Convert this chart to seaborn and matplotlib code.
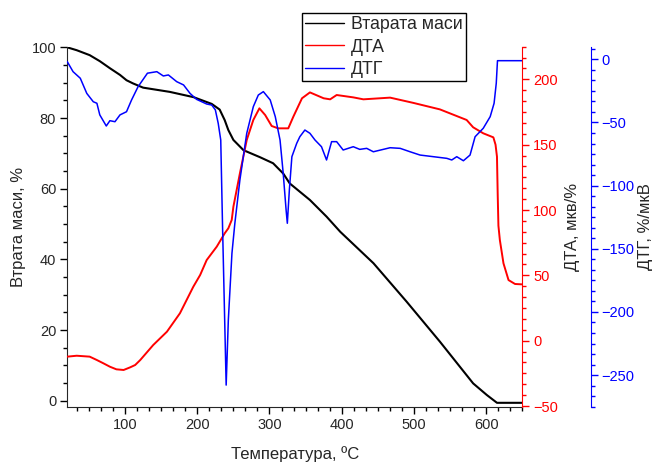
import matplotlib
matplotlib.use("Agg")
import matplotlib.pyplot as plt
import seaborn as sns
from matplotlib.lines import Line2D
from matplotlib.ticker import MultipleLocator, AutoMinorLocator

# values
t_mass = [20, 33, 51, 65, 79, 93, 102, 111, 125, 162, 195, 220, 231, 238, 243, 250, 264, 287,
          305, 319, 328, 356, 379, 398, 444, 490, 536, 582, 601, 615, 650]
mass = [100, 99.2, 97.8, 96.1, 94.1, 92.2, 90.7, 89.8, 88.6, 87.4, 85.9, 84.0, 82.4, 79.4, 76.6,
        73.8, 70.9, 68.9, 67.2, 64.3, 61.5, 56.8, 52.1, 47.8, 38.9, 28.0, 16.7, 4.9, 1.6, -0.6,
        -0.6]

t_dta = [20, 33, 51, 61, 70, 79, 88, 98, 107, 114, 121, 139, 158, 176, 194.5, 204, 213, 227, 238,
         243, 247.7, 250, 259, 268.5, 277.6, 286, 294, 303, 312, 326, 333, 345, 356, 375, 384, 393,
         416, 430, 467, 499, 536, 573, 582, 596, 610, 613, 615, 616, 617, 619, 624, 631, 640, 650]
dta = [-12.2, -11.5, -12.2, -14.8, -17.3, -19.9, -21.9, -22.4, -20.4, -18.6, -14.8, -3.3, 6.9,
       21.0, 41.3, 50.3, 61.7, 72.0, 82.2, 86.0, 92.4, 102.5, 128.0, 153.6, 168.9, 177.8, 172.7,
       164.3, 162.5, 162.5, 171.4, 185.5, 190.0, 185.5, 184.7, 188.0, 186.2, 184.7, 186.0, 182.0,
       177.0, 168.9, 163.3, 158.7, 155.6, 150.0, 140.8, 112.0, 88.0, 77.0, 59.2, 46.4, 43.4, 43.1]

t_dtg = [20, 28, 38, 47, 56, 61, 65, 74, 79, 86, 93, 102, 109, 118, 131, 144, 153, 160, 171.5,
         181, 190, 199, 213, 220, 225, 229, 232.5, 235, 240, 243, 248, 252, 259, 268.5, 277.6,
         284.5, 291.5, 301, 308, 314.6, 319, 323, 324.7, 327.5, 331, 337.7, 342, 349, 356, 363,
         372, 379, 386, 393, 402, 416, 425, 434.6, 443.8, 467, 481, 494.7, 508.5, 527, 545.5,
         552.4, 559.3, 568.5, 577.7, 584.7, 596, 605.6, 611, 614, 615.7, 650]
dtg = [-1.9, -9.8, -15.0, -27.0, -33.6, -34.8, -44.0, -52.8, -48.6, -49.4, -44.0, -41.5, -32.2,
       -21.7, -11.0, -9.8, -13.2, -12.4, -17.7, -20.3, -27.0, -31.7, -35.4, -36.2, -40.0, -50.7,
       -63.9, -132.5, -257.9, -206.4, -153.6, -130.0, -95.6, -58.6, -37.5, -28.3, -25.6, -32.2,
       -45.4, -63.9, -90.3, -119.3, -129.8, -103.5, -77.1, -66.5, -61.3, -56.0, -58.6, -63.9,
       -69.2, -79.7, -65.2, -65.2, -71.8, -69.2, -71.3, -70.5, -73.2, -70.0, -70.5, -73.2, -75.8,
       -77.1, -78.4, -79.7, -77.1, -80.3, -75.8, -61.3, -54.6, -45.4, -34.8, -19.0, -1.1, -1.1]

labels = ["Втарата маси", "ДТА", "ДТГ"]

sns.set_style("ticks")
plt.rcParams["font.family"] = ["Liberation Sans", "DejaVu Sans"]

fig = plt.figure(figsize=(6.52, 4.62), dpi=100)
ax = fig.add_axes([0.1032, 0.1197, 0.6978, 0.7793])
ax2 = ax.twinx()
ax3 = ax.twinx()

sns.lineplot(x=t_mass, y=mass, ax=ax, color="black", lw=1.5, sort=False, estimator=None)
sns.lineplot(x=t_dta, y=dta, ax=ax2, color="#ff0000", lw=1.4, sort=False, estimator=None)
sns.lineplot(x=t_dtg, y=dtg, ax=ax3, color="#0000ff", lw=1.1, sort=False, estimator=None)

ax.set_xlim(20, 650)
ax.set_ylim(-1.7, 100.2)
ax2.set_ylim(-50.5, 225)
ax3.set_ylim(-275, 10)

# spines
for s in ["top", "right"]:
    ax.spines[s].set_visible(False)
for a in (ax2, ax3):
    for s in ["top", "left", "bottom"]:
        a.spines[s].set_visible(False)
ax2.spines["right"].set_color("#ff0000")
ax3.spines["right"].set_color("#0000ff")
ax3.spines["right"].set_position(("outward", 49.2))

ax.xaxis.set_major_locator(MultipleLocator(100))
ax.xaxis.set_minor_locator(AutoMinorLocator(6))
ax.yaxis.set_major_locator(MultipleLocator(20))
ax.yaxis.set_minor_locator(AutoMinorLocator(4))
for a in (ax2, ax3):
    a.yaxis.set_major_locator(MultipleLocator(50))
    a.yaxis.set_minor_locator(AutoMinorLocator(6))

for a, c in ((ax, "black"), (ax2, "#ff0000"), (ax3, "#0000ff")):
    a.tick_params(which="major", direction="out", length=5, width=1, labelsize=10.5, pad=3,
                  color=c)
    a.tick_params(which="minor", direction="out", length=3, width=1, color=c)
ax2.tick_params(axis="y", labelcolor="#ff0000")
ax3.tick_params(axis="y", labelcolor="#0000ff")

ax.set_xlabel("Температура, ºC", fontsize=12, labelpad=10)
ax.set_ylabel("Втрата маси, %", fontsize=12, labelpad=4)
ax2.set_ylabel("ДТА, мкв/%", fontsize=12, labelpad=5)
ax3.set_ylabel("ДТГ, %/мкВ", fontsize=12, labelpad=2)

handles = [Line2D([], [], color=c, lw=1) for c in ("black", "#ff0000", "#0000ff")]
leg = fig.legend(handles, labels, loc="upper left", bbox_to_anchor=(0.4627, 0.9725),
                 fontsize=12.8, frameon=True, fancybox=False, edgecolor="black",
                 framealpha=1, borderpad=0.2, labelspacing=0.3, handlelength=2.2,
                 handletextpad=0.35, borderaxespad=0)
leg.get_frame().set_linewidth(1)

fig.savefig("out.png", dpi=100)
